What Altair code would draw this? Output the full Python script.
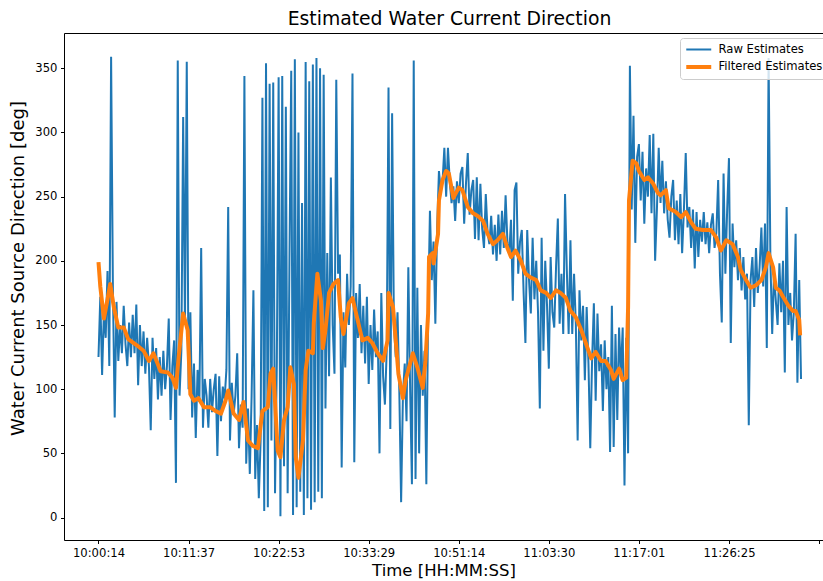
import altair as alt
import pandas as pd

# ---------------- data ----------------
RAW_STEP = 2  # sample index step between raw points

raw_values = [
    125, 172, 111, 160, 140, 192, 118, 359, 178, 78,
    168, 122, 150, 128, 165, 135, 118, 152, 125, 158,
    128, 166, 103, 150, 118, 145, 112, 140, 118, 68,
    140, 108, 132, 92, 125, 95, 130, 100, 118, 155,
    76, 118, 138, 27, 356, 95, 130, 312, 150, 355,
    100, 160, 78, 120, 62, 115, 90, 210, 70, 108,
    95, 70, 108, 82, 100, 112, 48, 110, 75, 102,
    92, 115, 242, 60, 105, 80, 95, 128, 54, 88,
    70, 344, 42, 85, 34, 95, 177, 30, 72, 15,
    60, 327, 5, 354, 8, 338, 60, 339, 19, 120,
    343, 1, 344, 40, 320, 19, 200, 348, 2, 357,
    8, 300, 20, 245, 2, 355, 15, 340, 6, 353,
    12, 358, 20, 350, 15, 345, 85, 206, 110, 265,
    150, 112, 341, 190, 205, 39, 160, 117, 190, 150,
    180, 346, 43, 175, 140, 182, 128, 165, 120, 172,
    104, 150, 115, 162, 125, 145, 50, 175, 110, 88,
    130, 335, 69, 315, 150, 125, 160, 98, 12, 95,
    120, 75, 195, 100, 26, 356, 30, 179, 50, 150,
    95, 130, 26, 160, 239, 185, 215, 151, 226, 270,
    255, 262, 288, 250, 288, 262, 245, 258, 231, 262,
    245, 268, 273, 229, 260, 284, 236, 255, 263, 217,
    265, 216, 260, 225, 210, 252, 222, 213, 235, 205,
    228, 200, 236, 205, 239, 210, 251, 215, 205, 232,
    169, 255, 261, 190, 215, 224, 175, 136, 224, 185,
    159, 218, 170, 200, 160, 85, 218, 130, 200, 165,
    116, 203, 160, 148, 195, 233, 151, 190, 143, 252,
    192, 143, 216, 143, 190, 150, 60, 177, 138, 165,
    107, 164, 120, 54, 122, 167, 91, 159, 114, 135,
    83, 138, 100, 125, 51, 165, 55, 143, 76, 148,
    112, 148, 25, 140, 50, 352, 240, 313, 214, 281,
    291, 247, 285, 229, 272, 250, 298, 237, 299, 200,
    240, 288, 245, 278, 237, 262, 232, 218, 250, 263,
    216, 247, 213, 252, 206, 240, 284, 226, 242, 210,
    240, 194, 238, 203, 232, 215, 238, 213, 230, 206,
    228, 237, 210, 222, 263, 190, 152, 268, 190, 240,
    280, 136, 229, 195, 216, 185, 210, 177, 203, 170,
    190, 72, 185, 203, 164, 210, 175, 195, 226, 180,
    229, 132, 358, 200, 143, 190, 169, 150, 198, 160,
    200, 113, 242, 150, 175, 138, 160, 221, 105, 185,
    108,
]

filt_index = [
    0, 2, 6, 10, 13, 17, 22, 28, 33, 43,
    50, 56, 61, 69, 77, 82, 86, 89, 94, 99,
    102, 106, 111, 117, 124, 130, 136, 141, 144, 150,
    156, 161, 166, 171, 177, 182, 188, 191, 194, 199,
    202, 206, 210, 213, 217, 219, 222, 227, 230, 233,
    238, 239, 243, 247, 249, 252, 256, 261, 266, 269,
    272, 278, 282, 288, 293, 299, 304, 310, 316, 321,
    322, 327, 330, 333, 338, 341, 349, 354, 360, 363,
    366, 367, 371, 372, 377, 378, 382, 386, 389, 394,
    400, 404, 410, 416, 421, 427, 432, 438, 443, 449,
    454, 458, 463, 469, 474, 480, 486, 491, 497, 502,
    508, 513, 519, 524, 530, 536, 541, 544, 547, 552,
    558, 563, 569, 572, 578, 582, 586, 588, 589, 593,
    597, 600, 606, 610, 616, 621, 624, 630, 633, 641,
    647, 652, 658, 663, 671, 680, 686, 691, 697, 704,
    710, 713, 719, 724, 730, 736, 741, 744, 749, 752,
    756, 760, 766, 771, 774, 778, 779,
]

filt_values = [
    199, 180, 155, 170, 182, 164, 148, 148, 139, 134,
    130, 122, 128, 114, 113, 109, 101, 125, 159, 146,
    96, 91, 93, 86, 86, 83, 81, 91, 99, 81,
    76, 90, 60, 56, 54, 83, 86, 112, 116, 52,
    47, 76, 86, 117, 104, 47, 31, 60, 115, 130,
    128, 151, 190, 169, 132, 146, 175, 182, 185, 156,
    143, 167, 171, 153, 138, 140, 136, 128, 122, 138,
    175, 164, 138, 112, 93, 107, 128, 117, 101, 122,
    159, 203, 206, 198, 221, 247, 263, 270, 268, 249,
    257, 255, 242, 237, 235, 231, 221, 213, 216, 221,
    210, 203, 208, 200, 190, 187, 185, 177, 175, 171,
    177, 175, 171, 161, 156, 146, 136, 130, 124, 129,
    122, 122, 115, 108, 116, 107, 109, 164, 247, 278,
    276, 270, 263, 265, 260, 253, 251, 255, 241, 238,
    234, 238, 230, 225, 224, 224, 218, 208, 216, 213,
    203, 193, 185, 179, 181, 185, 195, 206, 195, 179,
    177, 172, 165, 161, 161, 154, 142,
]

tick_index = [0, 100, 200, 300, 400, 500, 600, 700, 800]
tick_labels = ["10:00:14", "10:11:37", "10:22:53", "10:33:29",
               "10:51:14", "11:03:30", "11:17:01", "11:26:25", ""]
y_ticks = [0, 50, 100, 150, 200, 250, 300, 350]
series_names = ["Raw Estimates", "Filtered Estimates"]
series_colors = ["#1f77b4", "#ff7f0e"]
series_widths = [2.0, 4.0]

# ---------------- tables ----------------
raw_df = pd.DataFrame({
    "idx": [i * RAW_STEP for i in range(len(raw_values))],
    "deg": raw_values,
    "series": series_names[0],
})
pairs = list(zip(filt_index, filt_values))
filt_df = pd.DataFrame({
    "idx": [p[0] for p in pairs],
    "deg": [p[1] for p in pairs],
    "series": series_names[1],
})

FONT = "DejaVu Sans"
x_scale = alt.Scale(domain=[-38.3, 804.4], nice=False, zero=False)
y_scale = alt.Scale(domain=[-17.5, 377.5], nice=False, zero=False)
label_expr = "[" + ",".join("'" + t + "'" for t in tick_labels) + "][round(datum.value/100)]"

legend = alt.Legend(
    title=None, orient="none", legendX=616, legendY=5, direction="vertical",
    symbolType="M-1,0H3", symbolSize=156, labelFont=FONT, labelFontSize=11.6,
    labelColor="black", fillColor="rgba(255,255,255,0.8)", strokeColor="#cccccc",
    cornerRadius=3, padding=4, rowPadding=2.5, labelOffset=17.5,
)
color = alt.Color("series:N", scale=alt.Scale(domain=series_names, range=series_colors), legend=legend)
stroke_w = alt.StrokeWidth("series:N", scale=alt.Scale(domain=series_names, range=series_widths), legend=legend)

x_bottom = alt.X(
    "idx:Q", scale=x_scale,
    axis=alt.Axis(values=tick_index, labelExpr=label_expr, title="Time [HH:MM:SS]",
                  grid=False, orient="bottom", tickSize=3.5, labelPadding=3.5,
                  domainColor="black", tickColor="black", labelColor="black",
                  labelFont=FONT, labelFontSize=11.6, titleFont=FONT, titleFontSize=16.5,
                  titleFontWeight="normal", titleColor="black", titlePadding=4,
                  labelOverlap=False, labelFlush=False),
)
x_top = alt.X(
    "idx:Q", scale=x_scale,
    axis=alt.Axis(orient="top", labels=False, ticks=False, title=None, grid=False,
                  domainColor="black"),
)
y_enc = alt.Y(
    "deg:Q", scale=y_scale,
    axis=alt.Axis(values=y_ticks, title="Water Current Source Direction [deg]",
                  grid=False, tickSize=3.5, labelPadding=3.5, domainColor="black",
                  tickColor="black", labelColor="black", labelFont=FONT,
                  labelFontSize=11.6, titleFont=FONT, titleFontSize=18,
                  titleFontWeight="normal", titleColor="black", titlePadding=7,
                  titleY=235),
)

raw_layer = alt.Chart(raw_df).mark_line().encode(
    x=x_bottom, y=y_enc, color=color, strokeWidth=stroke_w, order="idx:Q"
)
filt_layer = alt.Chart(filt_df).mark_line(strokeJoin="round").encode(
    x=x_top, y=y_enc, color=color, strokeWidth=stroke_w, order="idx:Q"
)

chart = (
    alt.layer(raw_layer, filt_layer)
    .resolve_axis(x="independent")
    .properties(
        width=759, height=507,
        autosize=alt.AutoSizeParams(type="none"),
        padding={"left": 64, "top": 33, "right": 0, "bottom": 41},
        title=alt.TitleParams(
            "Estimated Water Current Direction", font=FONT, fontSize=18.8,
            fontWeight="normal", color="black", anchor="middle", frame="group",
            baseline="alphabetic", offset=7, dx=6, dy=18,
        ),
    )
    .configure_view(strokeWidth=0)
    .configure(background="white")
)

chart.save("out.html", embed_options={"renderer": "svg", "actions": False})
